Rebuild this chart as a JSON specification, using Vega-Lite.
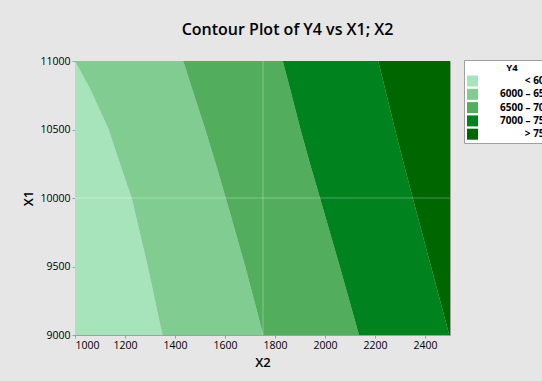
{
  "$schema": "https://vega.github.io/schema/vega-lite/v6.json",
  "autosize": {"type": "none"},
  "width": 375,
  "height": 274,
  "padding": {"left": 75, "top": 61, "right": 92, "bottom": 46},
  "background": "#e6e6e6",
  "config": {
    "font": "Open Sans",
    "view": {"stroke": "#a0a0a0", "strokeWidth": 1},
    "axis": {"domainColor": "#a0a0a0", "tickColor": "#a0a0a0", "tickSize": 3, "labelColor": "#000000", "labelFontSize": 10.5, "titleFontSize": 13, "titleFontWeight": 600, "titleColor": "#000000", "grid": false, "labelFont": "Open Sans", "format": "d", "labelPadding": 2}
  },
  "title": {"text": "Contour Plot of Y4 vs X1; X2", "fontSize": 16, "fontWeight": 600, "color": "#000000", "anchor": "middle", "dx": 25, "offset": 18},
  "datasets": {
    "bands": [
      {"x1": 11000, "lo": 1000, "hi": 1000, "band": "<  6000"},
      {"x1": 10800, "lo": 1000, "hi": 1060, "band": "<  6000"},
      {"x1": 10500, "lo": 1000, "hi": 1135, "band": "<  6000"},
      {"x1": 10250, "lo": 1000, "hi": 1180, "band": "<  6000"},
      {"x1": 10000, "lo": 1000, "hi": 1227, "band": "<  6000"},
      {"x1": 9500, "lo": 1000, "hi": 1291, "band": "<  6000"},
      {"x1": 9000, "lo": 1000, "hi": 1350, "band": "<  6000"},
      {"x1": 11000, "lo": 1000, "hi": 1433, "band": "6000  –  6500"},
      {"x1": 10800, "lo": 1060, "hi": 1468, "band": "6000  –  6500"},
      {"x1": 10500, "lo": 1135, "hi": 1521, "band": "6000  –  6500"},
      {"x1": 10250, "lo": 1180, "hi": 1563, "band": "6000  –  6500"},
      {"x1": 10000, "lo": 1227, "hi": 1603, "band": "6000  –  6500"},
      {"x1": 9500, "lo": 1291, "hi": 1681, "band": "6000  –  6500"},
      {"x1": 9000, "lo": 1350, "hi": 1753, "band": "6000  –  6500"},
      {"x1": 11000, "lo": 1433, "hi": 1831, "band": "6500  –  7000"},
      {"x1": 10800, "lo": 1468, "hi": 1860, "band": "6500  –  7000"},
      {"x1": 10500, "lo": 1521, "hi": 1902, "band": "6500  –  7000"},
      {"x1": 10250, "lo": 1563, "hi": 1940, "band": "6500  –  7000"},
      {"x1": 10000, "lo": 1603, "hi": 1980, "band": "6500  –  7000"},
      {"x1": 9500, "lo": 1681, "hi": 2059, "band": "6500  –  7000"},
      {"x1": 9000, "lo": 1753, "hi": 2136, "band": "6500  –  7000"},
      {"x1": 11000, "lo": 1831, "hi": 2213, "band": "7000  –  7500"},
      {"x1": 10800, "lo": 1860, "hi": 2240, "band": "7000  –  7500"},
      {"x1": 10500, "lo": 1902, "hi": 2280, "band": "7000  –  7500"},
      {"x1": 10250, "lo": 1940, "hi": 2315, "band": "7000  –  7500"},
      {"x1": 10000, "lo": 1980, "hi": 2351, "band": "7000  –  7500"},
      {"x1": 9500, "lo": 2059, "hi": 2424, "band": "7000  –  7500"},
      {"x1": 9000, "lo": 2136, "hi": 2497, "band": "7000  –  7500"},
      {"x1": 11000, "lo": 2213, "hi": 2500, "band": ">  7500"},
      {"x1": 10800, "lo": 2240, "hi": 2500, "band": ">  7500"},
      {"x1": 10500, "lo": 2280, "hi": 2500, "band": ">  7500"},
      {"x1": 10250, "lo": 2315, "hi": 2500, "band": ">  7500"},
      {"x1": 10000, "lo": 2351, "hi": 2500, "band": ">  7500"},
      {"x1": 9500, "lo": 2424, "hi": 2500, "band": ">  7500"},
      {"x1": 9000, "lo": 2497, "hi": 2500, "band": ">  7500"}
    ],
    "refx": [{"x2": 1752}],
    "refy": [{"x1": 10000}]
  },
  "layer": [
    {
      "data": {"name": "bands"},
      "mark": {"type": "area", "orient": "horizontal", "strokeWidth": 0},
      "encoding": {
        "y": {"field": "x1", "type": "quantitative", "scale": {"domain": [9000, 11000], "nice": false, "zero": false}, "axis": {"title": "X1", "values": [9000, 9500, 10000, 10500, 11000], "titlePadding": 4}},
        "x": {"field": "lo", "type": "quantitative", "scale": {"domain": [1000, 2500], "nice": false, "zero": false}, "axis": {"title": "X2", "values": [1000, 1200, 1400, 1600, 1800, 2000, 2200, 2400], "titlePadding": 6}},
        "x2": {"field": "hi"},
        "color": {
          "field": "band", "type": "nominal",
          "scale": {"domain": ["<  6000", "6000  –  6500", "6500  –  7000", "7000  –  7500", ">  7500"], "range": ["#a7e4bc", "#80cc91", "#52ae5c", "#00821f", "#006600"]},
          "legend": {
            "title": "Y4", "orient": "none", "legendX": 389, "legendY": -1,
            "titleAnchor": "middle", "titleFontSize": 9.5, "titleFontWeight": "bold", "titleColor": "#000000",
            "labelFontSize": 10, "labelFontWeight": "bold", "labelColor": "#000000",
            "labelAlign": "right", "labelOffset": 78,
            "symbolType": "square", "symbolSize": 121, "symbolStrokeWidth": 0, "symbolOpacity": 1,
            "rowPadding": 2.3,
            "fillColor": "#ffffff", "strokeColor": "#a0a0a0", "padding": 3, "titlePadding": 3
          }
        }
      }
    },
    {
      "data": {"name": "refx"},
      "mark": {"type": "rule", "color": "#ffffff", "opacity": 0.3, "strokeWidth": 1},
      "encoding": {"x": {"field": "x2", "type": "quantitative"}}
    },
    {
      "data": {"name": "refy"},
      "mark": {"type": "rule", "color": "#ffffff", "opacity": 0.3, "strokeWidth": 1},
      "encoding": {"y": {"field": "x1", "type": "quantitative"}}
    }
  ]
}
